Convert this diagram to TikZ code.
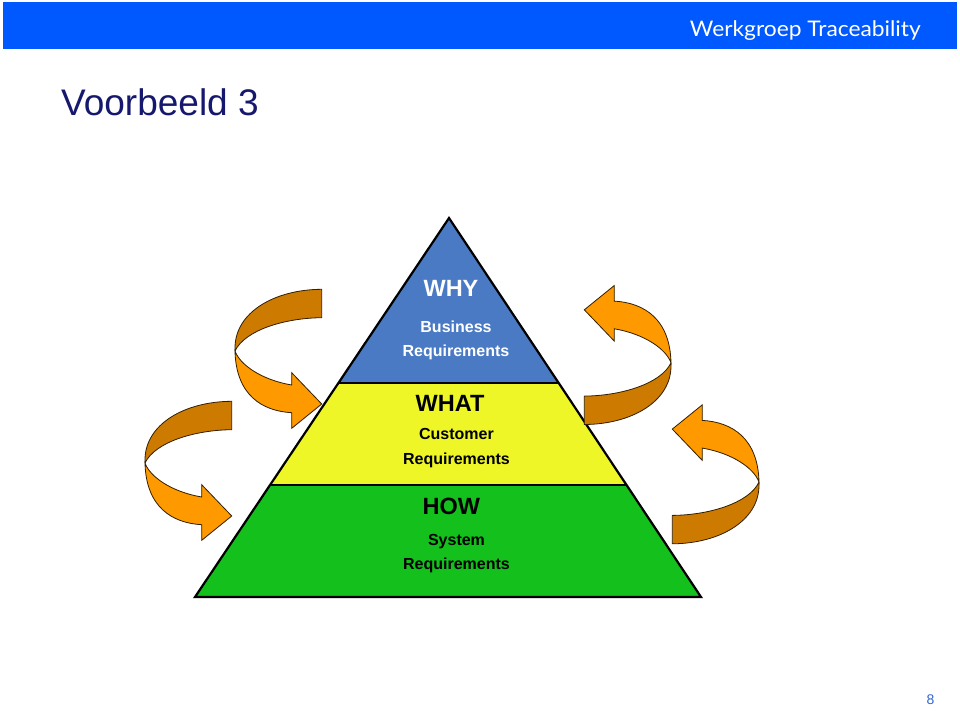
\documentclass[tikz,border=0pt]{standalone}
\usepackage{fontspec}
\setmainfont{Liberation Sans}
\newfontfamily\gillfont{Lato}
\definecolor{bannerblue}{RGB}{0,88,255}
\definecolor{titlenavy}{RGB}{22,24,110}
\definecolor{pagenum}{RGB}{51,102,204}
\definecolor{pyrblue}{RGB}{74,122,196}
\definecolor{pyryellow}{RGB}{238,246,40}
\definecolor{pyrgreen}{RGB}{20,192,28}
\definecolor{orlight}{RGB}{255,153,0}
\definecolor{ordark}{RGB}{204,122,0}
\definecolor{orline}{RGB}{50,30,0}
\tikzset{
  arrowdark/.style={fill=ordark, draw=orline, line width=0.8pt, line join=round},
  arrowlight/.style={fill=orlight, draw=orline, line width=0.8pt, line join=miter},
  bigword/.style={font=\bfseries\fontsize{23.5}{26}\selectfont, inner sep=0pt, anchor=base},
  smallword/.style={font=\bfseries\fontsize{16}{18}\selectfont, inner sep=0pt, anchor=base},
  pyrline/.style={line width=2.2pt, draw=black}
}
\newcommand\ribbonarrow{%
  \filldraw[arrowdark] (321.7,289.3) .. controls (275,289.5) and (235,312) .. (235,348)
     -- (235,351) .. controls (245,330) and (285,318) .. (321.7,317.7) -- cycle;
  \filldraw[arrowlight] (235,351) .. controls (236,395) and (262,411) .. (291.7,412.7)
     -- (291.7,428.3) -- (321.7,404) -- (291.7,372.7) -- (291.7,385)
     .. controls (262,380) and (240,365) .. (235,351) -- cycle;
}
\begin{document}
\begin{tikzpicture}[x=1pt, y=-1pt]
\useasboundingbox (0,0) rectangle (960,710);
\fill[white] (0,0) rectangle (960,710);
% banner
\fill[bannerblue] (3,2) rectangle (957,49);
\node[anchor=base east, inner sep=0pt, text=white, font=\gillfont\fontsize{21.5}{23}\selectfont] (banner) at (921,36.7) {\scalebox{1.06}[1]{Werkgroep Traceability}};
% title
\node[anchor=base west, inner sep=0pt, text=titlenavy, font=\fontsize{37}{40}\selectfont] (title) at (61,115.5) {Voorbeeld 3};
% page number
\node[anchor=base, inner sep=0pt, text=pagenum, font=\fontsize{14}{16}\selectfont] (page) at (930.5,704) {8};
% pyramid
\coordinate (A) at (449,218);
\coordinate (BL) at (195,597);
\coordinate (BR) at (701,597);
\coordinate (L1) at (338.4,383);
\coordinate (R1) at (558.7,383);
\coordinate (L2) at (270.1,485);
\coordinate (R2) at (626.5,485);
\fill[pyrblue] (A) -- (R1) -- (L1) -- cycle;
\fill[pyryellow] (L1) -- (R1) -- (R2) -- (L2) -- cycle;
\fill[pyrgreen] (L2) -- (R2) -- (BR) -- (BL) -- cycle;
\draw[pyrline] (L1) -- (R1);
\draw[pyrline] (L2) -- (R2);
\draw[pyrline] (A) -- (BR) -- (BL) -- cycle;
% pyramid texts
\node[bigword, text=white] (why) at (451,296.7) {WHY};
\node[smallword, text=white] (bus) at (456,332.7) {Business};
\node[smallword, text=white] (req1) at (456,356.7) {Requirements};
\node[bigword] (what) at (450,411) {WHAT};
\node[smallword] (cust) at (456.5,439.3) {Customer};
\node[smallword] (req2) at (456.5,464) {Requirements};
\node[bigword] (how) at (451.3,514) {HOW};
\node[smallword] (sys) at (456.5,545) {System};
\node[smallword] (req3) at (456.5,569.5) {Requirements};
% arrows
\ribbonarrow
\begin{scope}[shift={(-90,112)}]
  \ribbonarrow
\end{scope}
\begin{scope}[shift={(906,713.8)}, xscale=-1, yscale=-1]
  \ribbonarrow
\end{scope}
\begin{scope}[shift={(994,833.1)}, xscale=-1, yscale=-1]
  \ribbonarrow
\end{scope}
\end{tikzpicture}
\end{document}
